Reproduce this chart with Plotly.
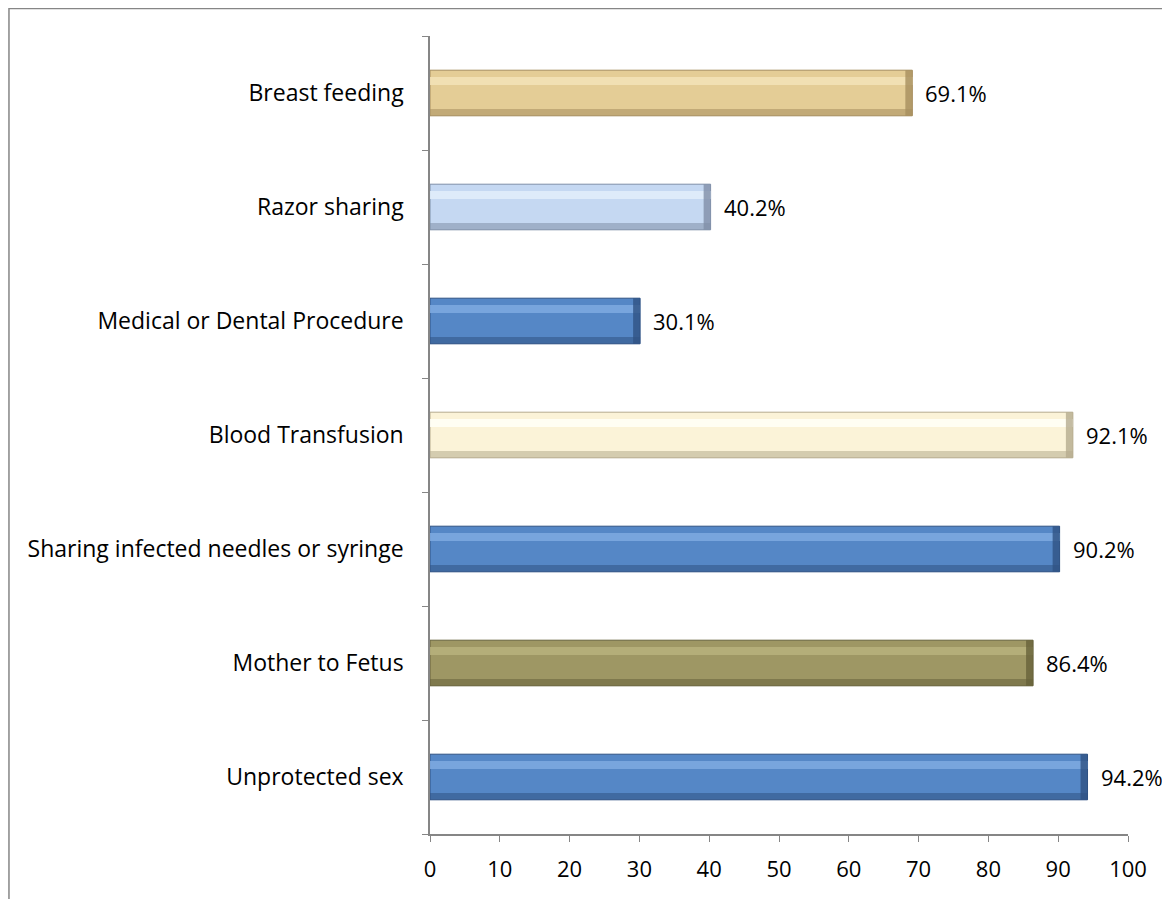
import plotly.graph_objects as go

categories = ["Unprotected sex", "Mother to Fetus", "Sharing infected needles or syringe",
              "Blood Transfusion", "Medical or Dental Procedure", "Razor sharing", "Breast feeding"]
values = [94.2, 86.4, 90.2, 92.1, 30.1, 40.2, 69.1]
x_ticks = [0, 10, 20, 30, 40, 50, 60, 70, 80, 90, 100]

base_colors = ["#5587C6", "#9E9764", "#5587C6", "#FBF3D8", "#5587C6", "#C5D8F2", "#E4CD96"]
light_colors = ["#7FAAE0", "#B7B17D", "#7FAAE0", "#FFFFF8", "#7FAAE0", "#E2EEFC", "#F3E3B9"]
dark_colors = ["#2F5283", "#66613A", "#2F5283", "#B5AB8E", "#2F5283", "#7F8FA8", "#A68E5E"]

FONT = "Open Sans"
FS = 22

end_w = [1.0] * len(values)
end_base = [v - w for v, w in zip(values, end_w)]

fig = go.Figure()
fig.add_trace(go.Bar(
    y=categories, x=values, orientation="h", width=0.4,
    marker=dict(color=base_colors, line=dict(color=dark_colors, width=1)),
    hoverinfo="skip", showlegend=False))
# bevel highlight strip (upper part)
fig.add_trace(go.Bar(
    y=categories, x=values, orientation="h", width=0.07, offset=0.07,
    marker=dict(color=light_colors, line=dict(width=0), opacity=0.85),
    hoverinfo="skip", showlegend=False))
# bevel shadow strip (lower part)
fig.add_trace(go.Bar(
    y=categories, x=values, orientation="h", width=0.06, offset=-0.2,
    marker=dict(color=dark_colors, line=dict(width=0), opacity=0.55),
    hoverinfo="skip", showlegend=False))
# dark right end of each bar
fig.add_trace(go.Bar(
    y=categories, x=end_w, base=end_base, orientation="h", width=0.4,
    marker=dict(color=dark_colors, line=dict(width=0), opacity=0.8),
    hoverinfo="skip", showlegend=False))

for c, v in zip(categories, values):
    fig.add_annotation(x=v, y=c, text=f"{v}%", xanchor="left", xshift=11,
                       showarrow=False, font=dict(family=FONT, size=FS, color="#000000"))

fig.update_layout(
    width=1170, height=899, barmode="overlay",
    margin=dict(l=422, r=50, t=28, b=73),
    plot_bgcolor="white", paper_bgcolor="white",
    font=dict(family=FONT, size=FS, color="#000000"),
    xaxis=dict(range=[0, 100], tickvals=x_ticks, ticks="outside", ticklen=6,
               tickcolor="#868686", showline=True, linecolor="#868686", linewidth=1.5,
               showgrid=False, zeroline=False, ticklabelstandoff=9),
    yaxis=dict(categoryorder="array", categoryarray=categories, ticks="outside",
               tickson="boundaries", ticklen=6, tickcolor="#868686", showline=True,
               linecolor="#868686", linewidth=1.5, showgrid=False, zeroline=False,
               ticklabelstandoff=20, tickfont=dict(size=23)),
    shapes=[dict(type="rect", xref="paper", yref="paper", x0=-0.6032, x1=1.0501,
                 y0=-0.2, y1=1.0345, line=dict(color="#868686", width=1.5),
                 fillcolor="rgba(0,0,0,0)", layer="below")],
)

fig.write_html("out.html")
